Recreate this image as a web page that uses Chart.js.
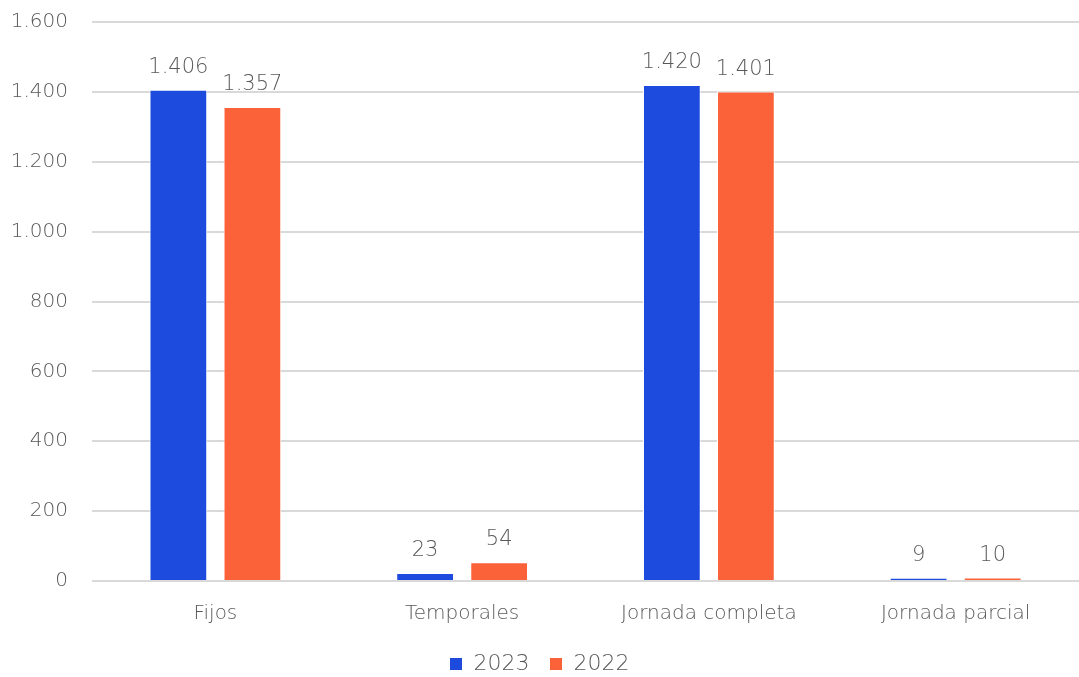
<!DOCTYPE html>
<html>
<head>
<meta charset="utf-8">
<script src="https://cdn.jsdelivr.net/npm/chart.js@4/dist/chart.umd.min.js"></script>
<style>
  html, body { margin: 0; padding: 0; background: #fff; overflow: hidden; }
  body { width: 1079px; height: 677px; position: relative; }
  #wrap { width: 1079px; height: 699px; position: absolute; left: 0; top: -14px; }
</style>
</head>
<body>
<div id="wrap"><canvas id="statsChart"></canvas></div>
<script>
const categories = ['Fijos', 'Temporales', 'Jornada completa', 'Jornada parcial'];
const values2023 = [1406, 23, 1420, 9];
const values2022 = [1357, 54, 1401, 10];
const seriesLabels = ['2023', '2022'];

const FONT = "'DejaVu Sans', 'Open Sans', sans-serif";
const TEXT = '#595959';

function fmt(v) {
    return String(v).replace(/\B(?=(\d{3})+(?!\d))/g, '.');
}

// draws the value on top of every bar
const barLabels = {
    id: 'barLabels',
    afterDatasetsDraw(chart) {
        const ctx = chart.ctx;
        ctx.save();
        ctx.font = '200 21px ' + FONT;
        ctx.fillStyle = TEXT;
        ctx.textAlign = 'center';
        ctx.textBaseline = 'alphabetic';
        chart.data.datasets.forEach((ds, i) => {
            chart.getDatasetMeta(i).data.forEach((bar, j) => {
                ctx.fillText(fmt(ds.data[j]), bar.x, bar.y - 17);
            });
        });
        ctx.restore();
    }
};

document.addEventListener('DOMContentLoaded', function() {
    const ctx = document.getElementById('statsChart').getContext('2d');
    new Chart(ctx, {
        type: 'bar',
        data: {
            labels: categories,
            datasets: [
                {
                    label: seriesLabels[0],
                    data: values2023,
                    backgroundColor: '#1c4bde',
                    borderColor: '#ffffff',
                    borderWidth: 1
                },
                {
                    label: seriesLabels[1],
                    data: values2022,
                    backgroundColor: '#fc623a',
                    borderColor: '#ffffff',
                    borderWidth: 1
                }
            ]
        },
        options: {
            responsive: true,
            maintainAspectRatio: false,
            animation: false,
            categoryPercentage: 0.6,
            barPercentage: 0.78,
            layout: { padding: 0 },
            plugins: {
                tooltip: { enabled: false },
                legend: {
                    position: 'bottom',
                    labels: {
                        boxWidth: 13,
                        boxHeight: 13,
                        padding: 20,
                        color: TEXT,
                        font: { family: FONT, size: 22, weight: '200' }
                    }
                }
            },
            scales: {
                x: {
                    grid: { display: false },
                    border: { display: false },
                    ticks: {
                        color: TEXT,
                        padding: 13,
                        font: { family: FONT, size: 20, weight: '200' }
                    },
                    afterFit: function(scale) { scale.height = 52; }
                },
                y: {
                    min: 0,
                    max: 1600,
                    border: { display: false },
                    grid: { color: '#d9d9d9', lineWidth: 2, drawTicks: false },
                    ticks: {
                        stepSize: 200,
                        padding: 24,
                        color: TEXT,
                        font: { family: FONT, size: 20, weight: '200' },
                        callback: function(v) { return fmt(v); }
                    },
                    afterFit: function(scale) { scale.width = 92; }
                }
            }
        },
        plugins: [barLabels]
    });
});
</script>
</body>
</html>
